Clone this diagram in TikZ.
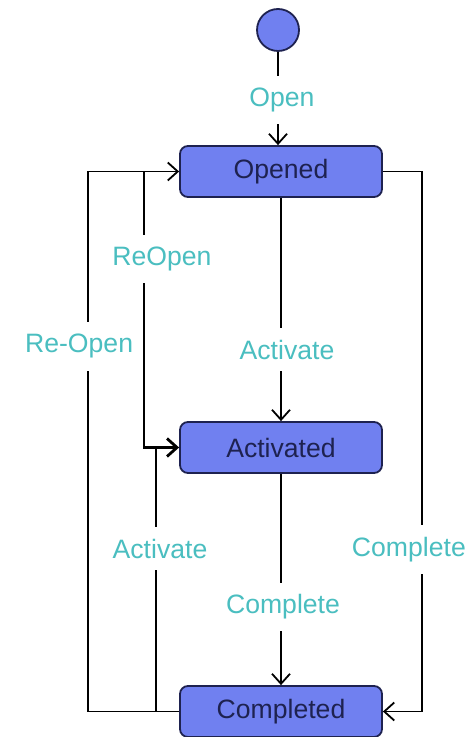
\documentclass[tikz,border=0pt]{standalone}
\usepackage{fontspec}
\setsansfont{Liberation Sans}
\usetikzlibrary{arrows.meta}
\definecolor{boxblue}{RGB}{112,128,240}
\definecolor{boxline}{RGB}{30,34,80}
\definecolor{lbl}{RGB}{74,190,192}

\begin{document}
\begin{tikzpicture}[x=0.5pt,y=-0.5pt,node distance=138pt,
  >={Straight Barb[length=5pt,width=9pt]},line width=0.9pt,
  state/.style={draw=boxline,fill=boxblue,rounded corners=4pt,text=boxline,
    minimum width=101pt,minimum height=25.5pt,font=\sffamily\fontsize{13.3}{16}\selectfont},
  init/.style={circle,draw=boxline,fill=boxblue,minimum size=21pt,inner sep=0pt},
  trans/.style={fill=white,text=lbl,inner xsep=1.5pt,inner ysep=6pt,font=\sffamily\fontsize{13.3}{16}\selectfont}]
\useasboundingbox (0,0) rectangle (472,737);
\node[state] (Opened)    at (281,171.5)                   {Opened}   ;
\node[state] (Activated) [below of=Opened]                {Activated};
\node[state] (Completed) [below of=Activated, yshift=6pt] {Completed};
\node[init]  (Init)      [above of=Opened, node distance=70.75pt, xshift=-1.5pt] {};
\coordinate (ReJoin)  at (144,171.5);
\coordinate (ActJoin) at (156,711.5);
% transitions
\draw[->] (Init.south) -- node[trans,xshift=2pt,pos=0.52] {Open} (Init.south |- Opened.north);
\draw[->] (Opened) -- node[trans,xshift=3pt,pos=0.68] {Activate} (Activated);
\draw[->] (Activated) -- node[trans,xshift=1pt,pos=0.63] {Complete} (Completed);
\draw[->] (Opened.east) -- ++(39,0) |- node[trans,xshift=-6.5pt,pos=0.35] {Complete} (Completed.east);
\draw[->] (Completed.west) -- ++(-91,0) |- node[trans,xshift=-4.5pt,pos=0.338] {Re-Open} (Opened.west);
\draw[->,line width=1.4pt] (ReJoin) |- node[trans,xshift=9pt,pos=0.158] {ReOpen} (Activated.west);
\draw (ActJoin) -- node[trans,xshift=2pt,pos=0.617] {Activate} (ActJoin |- Activated.west);
\end{tikzpicture}
\end{document}
